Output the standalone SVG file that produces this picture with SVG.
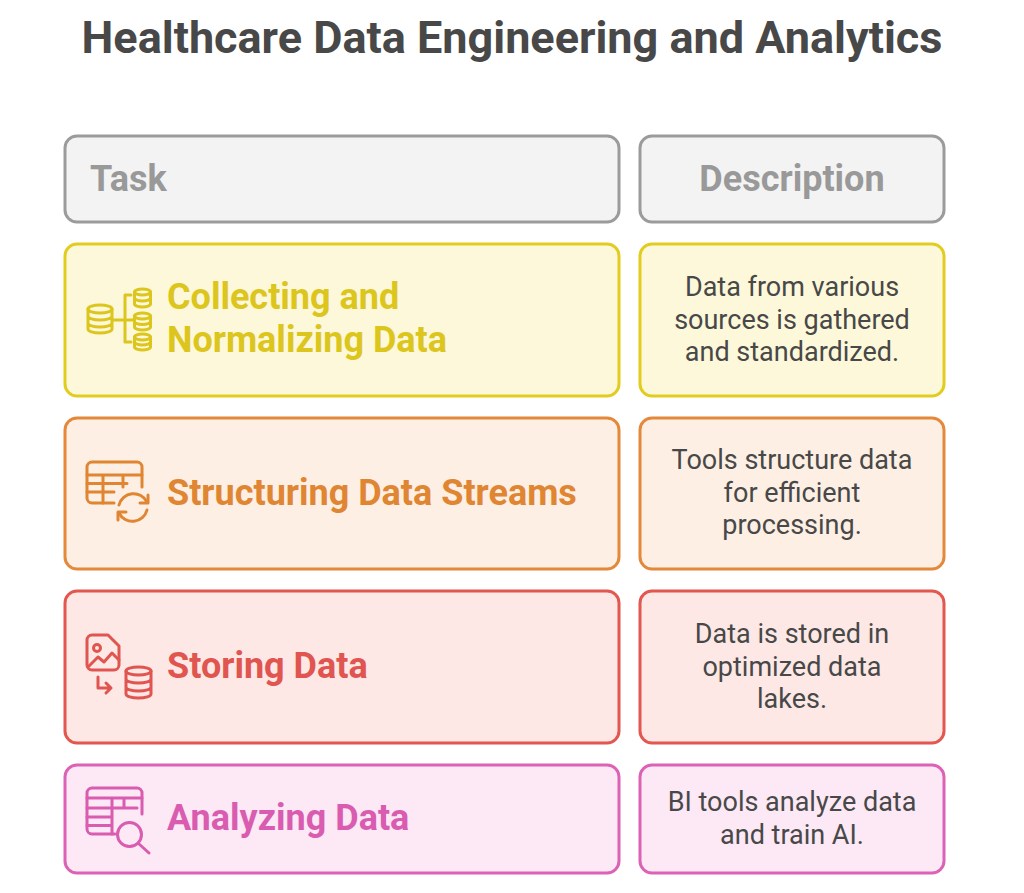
<svg xmlns="http://www.w3.org/2000/svg" width="1024" height="893" viewBox="0 0 1024 893">
<style>
text{font-family:Roboto,"Liberation Sans",sans-serif}
.title{font-size:45px;font-weight:700;fill:#484848}
.hd{font-size:36px;font-weight:700;fill:#999999}
.tt{font-size:36px;font-weight:700}
.ds{font-size:27px;fill:#484848;text-anchor:middle}
.box{stroke-width:3}
.ic{fill:none;stroke-width:3;stroke-linecap:round;stroke-linejoin:round}
.gray{fill:#f3f3f3;stroke:#9b9b9b}
.y{fill:#fdf8d9;stroke:#e3cc20}
.o{fill:#fdefe3;stroke:#e4883a}
.r{fill:#fde8e6;stroke:#e2574f}
.p{fill:#fde8f5;stroke:#dc62b5}
</style>
<rect width="1024" height="893" fill="#ffffff"/>
<text class="title" x="512" y="53" text-anchor="middle">Healthcare Data Engineering and Analytics</text>

<g id="header-task">
<rect class="box gray" x="65" y="136" width="554" height="86" rx="12"/>
<text class="hd" x="90" y="191">Task</text>
</g>
<g id="header-description">
<rect class="box gray" x="640" y="136" width="304" height="86" rx="12"/>
<text class="hd" x="792" y="191" text-anchor="middle">Description</text>
</g>

<g id="task-collecting">
<rect class="box y" x="65" y="244" width="554" height="152" rx="12"/>
<g class="ic" stroke="#dcc51c">
<ellipse cx="100" cy="309" rx="12" ry="4"/>
<path d="M88,309 V329 a12,4 0 0 0 24,0 V309 M88,316 a12,4 0 0 0 24,0 M88,323 a12,4 0 0 0 24,0"/>
<path d="M113,320 H133 M131,295 H125 V342 H131"/>
<ellipse cx="142.5" cy="292" rx="8" ry="3"/>
<path d="M134.5,292 V304 a8,3 0 0 0 16,0 V292 M134.5,298 a8,3 0 0 0 16,0"/>
<ellipse cx="142.5" cy="316" rx="8" ry="3"/>
<path d="M134.5,316 V327 a8,3 0 0 0 16,0 V316 M134.5,321.5 a8,3 0 0 0 16,0"/>
<ellipse cx="142.5" cy="337" rx="8" ry="3"/>
<path d="M134.5,337 V347 a8,3 0 0 0 16,0 V337 M134.5,342 a8,3 0 0 0 16,0"/>
</g>
<text class="tt" fill="#dcc51c"><tspan x="167" y="309">Collecting and</tspan><tspan x="167" y="352">Normalizing Data</tspan></text>
</g>
<g id="desc-collecting">
<rect class="box y" x="640" y="244" width="304" height="152" rx="12"/>
<text class="ds"><tspan x="792" y="296">Data from various</tspan><tspan x="792" y="329">sources is gathered</tspan><tspan x="792" y="361">and standardized.</tspan></text>
</g>

<g id="task-structuring">
<rect class="box o" x="65" y="418" width="554" height="151" rx="12"/>
<g class="ic" stroke="#e08532">
<path d="M114,503 H92 a5,5 0 0 1 -5,-5 V467 a5,5 0 0 1 5,-5 H137 a5,5 0 0 1 5,5 V487"/>
<path d="M87,475 H142 M87,483.5 H127 M87,492 H114 M103,475 V503 M123,475 V487"/>
<path d="M119,505 A15,15 0 0 1 147,502"/>
<path d="M148,495 V503 H140"/>
<path d="M147,510 A15,15 0 0 1 119,513"/>
<path d="M118,520 V512 H126"/>
</g>
<text class="tt" x="167" y="505" fill="#e08532">Structuring Data Streams</text>
</g>
<g id="desc-structuring">
<rect class="box o" x="640" y="418" width="304" height="151" rx="12"/>
<text class="ds"><tspan x="792" y="469">Tools structure data</tspan><tspan x="792" y="502">for efficient</tspan><tspan x="792" y="534">processing.</tspan></text>
</g>

<g id="task-storing">
<rect class="box r" x="65" y="591" width="554" height="152" rx="12"/>
<g class="ic" stroke="#e05550">
<path d="M87,640 a5,5 0 0 1 5,-5 H108 L119,646 V665 a5,5 0 0 1 -5,5 H92 a5,5 0 0 1 -5,-5 Z"/>
<circle cx="97" cy="648" r="3.5"/>
<path d="M88,667 L98,657 L104,662 L112,653 L119,660"/>
<path d="M98,677 V688 H111 M106,683 L111,688 L106,693"/>
<ellipse cx="138.5" cy="671" rx="12.5" ry="4"/>
<path d="M126,671 V694 a12.5,4 0 0 0 25,0 V671 M126,679 a12.5,4 0 0 0 25,0 M126,687 a12.5,4 0 0 0 25,0"/>
</g>
<text class="tt" x="167" y="678" fill="#e05550">Storing Data</text>
</g>
<g id="desc-storing">
<rect class="box r" x="640" y="591" width="304" height="152" rx="12"/>
<text class="ds"><tspan x="792" y="643">Data is stored in</tspan><tspan x="792" y="676">optimized data</tspan><tspan x="792" y="708">lakes.</tspan></text>
</g>

<g id="task-analyzing">
<rect class="box p" x="65" y="765" width="554" height="108" rx="12"/>
<g class="ic" stroke="#d95cb0">
<path d="M115,834 H92 a5,5 0 0 1 -5,-5 V793 a5,5 0 0 1 5,-5 H137 a5,5 0 0 1 5,5 V814"/>
<path d="M87,798 H142 M87,808 H137 M87,817 H112 M87,825.5 H112 M112,798 V834 M124,798 V808"/>
<circle cx="129.5" cy="834.5" r="12"/>
<path d="M138.5,843.5 L149,853"/>
</g>
<text class="tt" x="167" y="830" fill="#d95cb0">Analyzing Data</text>
</g>
<g id="desc-analyzing">
<rect class="box p" x="640" y="765" width="304" height="108" rx="12"/>
<text class="ds"><tspan x="792" y="811">BI tools analyze data</tspan><tspan x="792" y="844">and train AI.</tspan></text>
</g>

<g id="connectors"></g>
</svg>
